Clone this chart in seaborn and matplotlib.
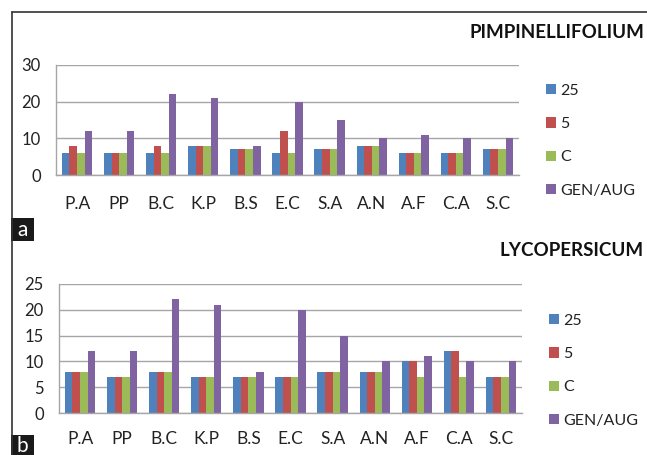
import matplotlib
matplotlib.use("Agg")
import matplotlib.pyplot as plt
from matplotlib.lines import Line2D
from matplotlib.patches import Rectangle
import seaborn as sns
import pandas as pd

# Isolates and treatment series
isolates = ["P.A", "PP", "B.C", "K.P", "B.S", "E.C", "S.A", "A.N", "A.F", "C.A", "S.C"]
series = ["25", "5", "C", "GEN/AUG"]

pimp_25 = [6, 6, 6, 8, 7, 6, 7, 8, 6, 6, 7]
pimp_5 = [8, 6, 8, 8, 7, 12, 7, 8, 6, 6, 7]
pimp_c = [6, 6, 6, 8, 7, 6, 7, 8, 6, 6, 7]
pimp_gen = [12, 12, 22, 21, 8, 20, 15, 10, 11, 10, 10]

lyco_25 = [8, 7, 8, 7, 7, 7, 8, 8, 10, 12, 7]
lyco_5 = [8, 7, 8, 7, 7, 7, 8, 8, 10, 12, 7]
lyco_c = [8, 7, 8, 7, 7, 7, 8, 8, 7, 7, 7]
lyco_gen = [12, 12, 22, 21, 8, 20, 15, 10, 11, 10, 10]

colors = ["#4F81BD", "#C0504D", "#9BBB59", "#8064A2"]

sns.set_theme(style="white")
plt.rcParams["font.family"] = ["Lato", "DejaVu Sans"]


def long_frame(*cols):
    rows = []
    for name, vals in zip(series, cols):
        for iso, v in zip(isolates, vals):
            rows.append({"isolate": iso, "series": name, "value": v})
    return pd.DataFrame(rows)


W, H = 647, 455
fig = plt.figure(figsize=(W / 100, H / 100), dpi=100)


def fx(px):
    return px / W


def fy(py):
    return 1 - py / H


def panel(rect, df, ymax, ystep, title, title_y, legend_xy, label_pad):
    ax = fig.add_axes(rect)
    sns.barplot(data=df, x="isolate", y="value", hue="series", order=isolates,
                hue_order=series, palette=colors, width=0.72, gap=0,
                saturation=1, ax=ax, errorbar=None, linewidth=0, edgecolor="none")
    ax.set_ylim(0, ymax)
    ax.set_xlim(-0.5, len(isolates) - 0.5)
    ax.set_yticks(range(0, ymax + 1, ystep))
    ax.yaxis.grid(True, color="#A6A6A6", linewidth=1)
    ax.xaxis.grid(False)
    ax.set_axisbelow(True)
    ax.set_xlabel("")
    ax.set_ylabel("")
    for s in ["top", "right"]:
        ax.spines[s].set_visible(False)
    for s in ["left", "bottom"]:
        ax.spines[s].set_color("#A6A6A6")
        ax.spines[s].set_linewidth(1)
    ax.tick_params(axis="y", length=0, pad=11, labelsize=12, labelcolor="#222222")
    ax.tick_params(axis="x", length=0, pad=label_pad, labelsize=12.5, labelcolor="#222222")
    handles, labels = ax.get_legend_handles_labels()
    ax.get_legend().remove()
    fig.legend(handles, labels, loc="upper left", bbox_to_anchor=legend_xy,
               frameon=False, fontsize=11.5, handlelength=0.6, handleheight=0.6,
               handletextpad=0.3, labelspacing=1.2, borderpad=0, borderaxespad=0,
               labelcolor="#222222")
    fig.text(fx(644), fy(title_y), title, ha="right", va="center",
             fontsize=13.5, fontweight="bold", color="#111111")
    return ax


panel([fx(56), fy(175), fx(463), (175 - 65) / H],
      long_frame(pimp_25, pimp_5, pimp_c, pimp_gen), 30, 10,
      "PIMPINELLIFOLIUM", 33, (fx(546), fy(84)), 15)
panel([fx(59), fy(413), fx(463), (413 - 284) / H],
      long_frame(lyco_25, lyco_5, lyco_c, lyco_gen), 25, 5,
      "LYCOPERSICUM", 250, (fx(549), fy(314)), 13)

# outer frame lines
fig.add_artist(Line2D([fx(11.5), fx(11.5)], [fy(12), 0], color="#333333", lw=1.2))
fig.add_artist(Line2D([fx(11.5), 1], [fy(12), fy(12)], color="#333333", lw=1.2))

# panel letters in dark boxes
for letter, ytop, ybot in [("a", 218, 241), ("b", 435, 455)]:
    fig.add_artist(Rectangle((fx(11), fy(ybot)), fx(23), (ybot - ytop) / H,
                             transform=fig.transFigure, facecolor="#1a1a1a",
                             edgecolor="none"))
    fig.text(fx(22.5), fy((ytop + ybot) / 2 + 1), letter, ha="center", va="center",
             fontsize=15, color="white")

fig.savefig("out.png", dpi=100, facecolor="white")
